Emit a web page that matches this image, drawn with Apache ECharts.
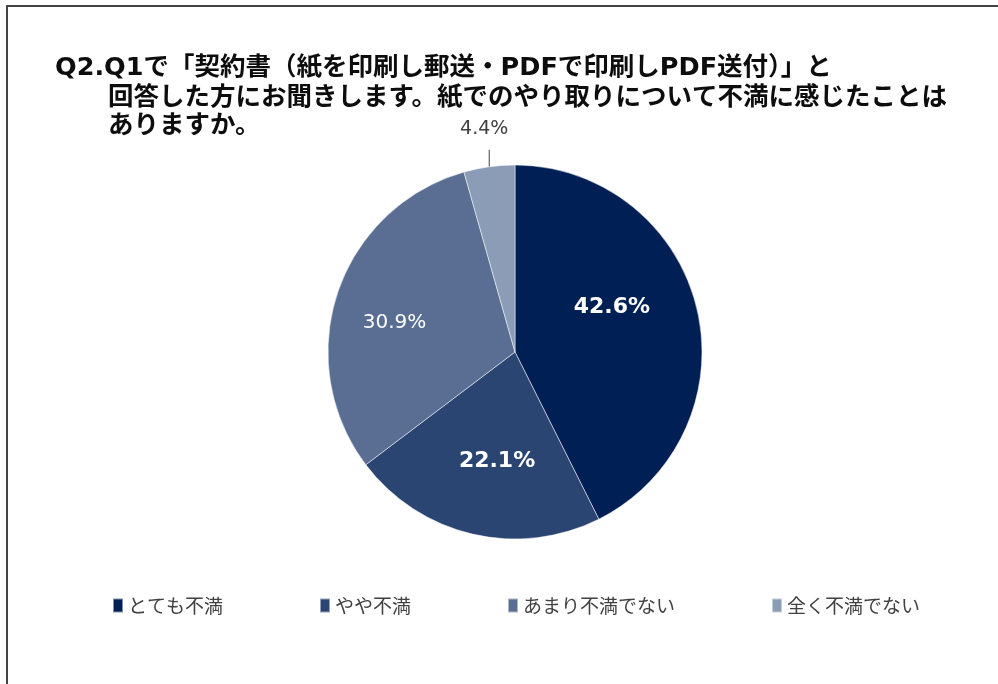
<!DOCTYPE html>
<html style="height: 100%">
<head>
    <meta charset="utf-8">
    <title>Q2 紙でのやり取りについて不満に感じたこと</title>
    <script type="text/javascript" src="https://cdn.jsdelivr.net/npm/echarts@6/dist/echarts.min.js"></script>
</head>
<body style="height: 100%; margin: 0">
    <div id="container" style="width: 998px; height: 684px"></div>
    <script type="text/javascript">
        // データ
        var categories = ['とても不満', 'やや不満', 'あまり不満でない', '全く不満でない'];
        var values = [42.6, 22.1, 30.9, 4.4];
        var colors = ['#001f55', '#2a4572', '#596e92', '#8b9cb7'];
        // ラベルの微調整（既定位置からのずれ）
        var labelShift = [[3, -22], [4, 15], [-29, 1], [0, 0]];

        var titleLine1 = 'Q2.Q1で「契約書（紙を印刷し郵送・PDFで印刷しPDF送付）」と';
        var titleLine2 = '回答した方にお聞きします。紙でのやり取りについて不満に感じたことは\nありますか。';

        var dom = document.getElementById('container');
        var myChart = echarts.init(dom);

        var pieData = categories.map(function (name, i) {
            var item = {
                name: name,
                value: values[i],
                itemStyle: { color: colors[i] }
            };
            if (i == 3) {
                // 小さい扇形は外側にラベル
                item.label = {
                    position: 'outside',
                    color: '#404040',
                    fontSize: 19,
                    fontWeight: 'normal'
                };
                item.labelLine = {
                    show: true,
                    length: 17,
                    length2: 0,
                    lineStyle: { color: '#404040', width: 1 }
                };
            } else if (i == 2) {
                item.label = { fontWeight: 'normal', fontSize: 20 };
            }
            return item;
        });

        var option = {
            backgroundColor: '#fff',
            title: [{
                text: titleLine1,
                left: 55,
                top: 53,
                padding: 0,
                textStyle: {
                    fontFamily: "'DejaVu Sans', 'Noto Sans CJK JP'",
                    fontWeight: 'bold',
                    fontSize: 25.5,
                    lineHeight: 30,
                    color: '#0d0d0d'
                }
            }, {
                text: titleLine2,
                left: 108,
                top: 84,
                padding: 0,
                textStyle: {
                    fontFamily: "'DejaVu Sans', 'Noto Sans CJK JP'",
                    fontWeight: 'bold',
                    fontSize: 25.5,
                    lineHeight: 28,
                    color: '#0d0d0d'
                }
            }],
            legend: {
                left: 112,
                top: 596,
                padding: 0,
                itemGap: 96,
                itemWidth: 10,
                itemHeight: 14,
                icon: 'rect',
                selectedMode: false,
                textStyle: {
                    fontFamily: "'Noto Sans CJK JP'",
                    fontSize: 19,
                    color: '#404040'
                },
                data: categories
            },
            // 外枠
            graphic: [{
                type: 'rect',
                shape: { x: 7, y: 6, width: 1100, height: 800 },
                style: { fill: 'none', stroke: '#444', lineWidth: 2 },
                silent: true
            }],
            series: [{
                type: 'pie',
                center: [515, 352],
                radius: 187,
                startAngle: 90,
                clockwise: true,
                animation: false,
                avoidLabelOverlap: false,
                itemStyle: {
                    borderColor: 'rgba(255,255,255,0.5)',
                    borderWidth: 1
                },
                label: {
                    show: true,
                    position: 'inside',
                    formatter: function (p) { return p.value.toFixed(1) + '%'; },
                    fontFamily: "'DejaVu Sans'",
                    fontSize: 22,
                    fontWeight: 'bold',
                    color: '#fff'
                },
                labelLine: { show: false },
                labelLayout: function (params) {
                    var i = params.dataIndex;
                    if (i == 3 && params.labelLinePoints) {
                        var p0 = params.labelLinePoints[0];
                        return {
                            x: p0[0] - 5,
                            y: p0[1] - 38,
                            align: 'center',
                            verticalAlign: 'middle',
                            labelLinePoints: [[p0[0], p0[1]], [p0[0], p0[1] - 17], [p0[0], p0[1] - 17]]
                        };
                    }
                    return { dx: labelShift[i][0], dy: labelShift[i][1] };
                },
                data: pieData
            }]
        };

        if (option && typeof option === 'object') {
            myChart.setOption(option, true);
        }
    </script>
</body>
</html>
